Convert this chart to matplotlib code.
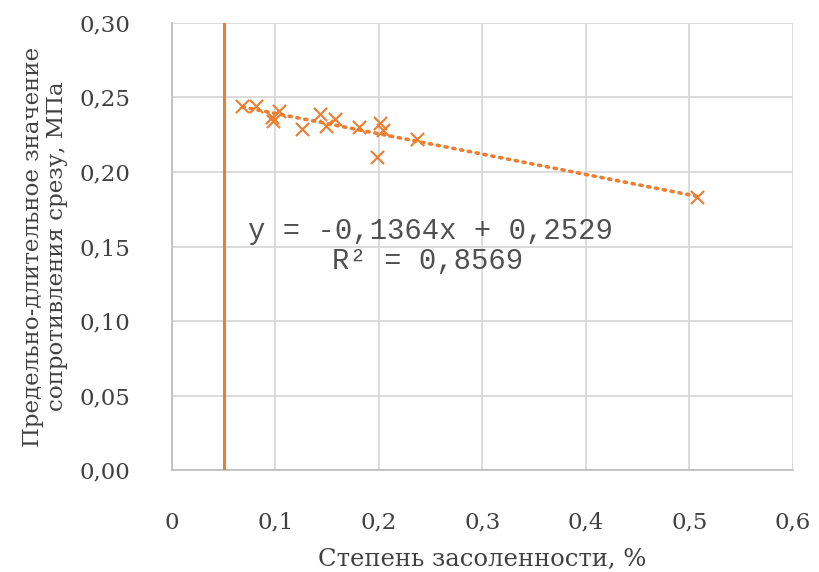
import matplotlib
matplotlib.use('Agg')
import matplotlib.pyplot as plt
import numpy as np

# ── Data ──────────────────────────────────────────────────────────────
salinity = [0.068, 0.081, 0.097, 0.098, 0.1035, 0.126, 0.143, 0.149,
            0.1575, 0.181, 0.198, 0.201, 0.2035, 0.237, 0.5075]
strength = [0.2443, 0.2443, 0.2368, 0.2345, 0.2410, 0.2285, 0.2390, 0.2310,
            0.2354, 0.2300, 0.2099, 0.2327, 0.2280, 0.2219, 0.1834]
trend_slope = -0.1364
trend_icept = 0.2529
limit_x = 0.05

x_ticks = [0, 0.1, 0.2, 0.3, 0.4, 0.5, 0.6]
x_tick_labels = ['0', '0,1', '0,2', '0,3', '0,4', '0,5', '0,6']
y_ticks = [0.0, 0.05, 0.10, 0.15, 0.20, 0.25, 0.30]
y_tick_labels = ['0,00', '0,05', '0,10', '0,15', '0,20', '0,25', '0,30']

ORANGE = '#ED7D31'
GRID = '#d9d9d9'
TEXT = '#404040'
serif = ['DejaVu Serif']

fig = plt.figure(figsize=(8.19, 5.72), dpi=100)
ax = fig.add_axes([0.21, 0.178, 0.758, 0.782])

# ── Marks ─────────────────────────────────────────────────────────────
ax.axvline(limit_x, color=ORANGE, linewidth=2.2, zorder=3)
ax.scatter(salinity, strength, marker='x', s=90, color=ORANGE,
           linewidths=1.5, zorder=4)
xt = np.array([min(salinity), max(salinity)])
ax.plot(xt, trend_slope * xt + trend_icept, linestyle=(0, (0.6, 1.6)),
        color=ORANGE, linewidth=2.6, dash_capstyle='round', zorder=3)

ax.text(0.0735, 0.1605, 'y = -0,1364x + 0,2529', family='Liberation Mono',
        fontsize=20.8, ha='left', va='center', color='#505050')
ax.text(0.155, 0.1405, 'R² = 0,8569', family='Liberation Mono',
        fontsize=20.8, ha='left', va='center', color='#505050')

# ── Axes styling ──────────────────────────────────────────────────────
ax.set_xlim(0, 0.6)
ax.set_ylim(0, 0.30)
ax.set_xticks(x_ticks)
ax.set_xticklabels(x_tick_labels, family=serif, fontsize=16.5)
ax.set_yticks(y_ticks)
ax.set_yticklabels(y_tick_labels, family=serif, fontsize=16.5)
ax.tick_params(axis='both', length=0, colors=TEXT)
ax.tick_params(axis='x', pad=30)
ax.tick_params(axis='y', pad=30)
ax.grid(True, color=GRID, linewidth=1.3)
ax.set_axisbelow(True)
for side in ['top', 'right']:
    ax.spines[side].set_visible(False)
for side in ['left', 'bottom']:
    ax.spines[side].set_color('#bfbfbf')
    ax.spines[side].set_linewidth(1.3)

ax.set_xlabel('Степень засоленности, %', family=serif, fontsize=17.5,
              color=TEXT, labelpad=10)
ax.set_ylabel('Предельно-длительное значение\nсопротивления срезу, МПа',
              family=serif, fontsize=16.5, color=TEXT, labelpad=8,
              linespacing=1.15)

plt.savefig('out.png', dpi=100)
